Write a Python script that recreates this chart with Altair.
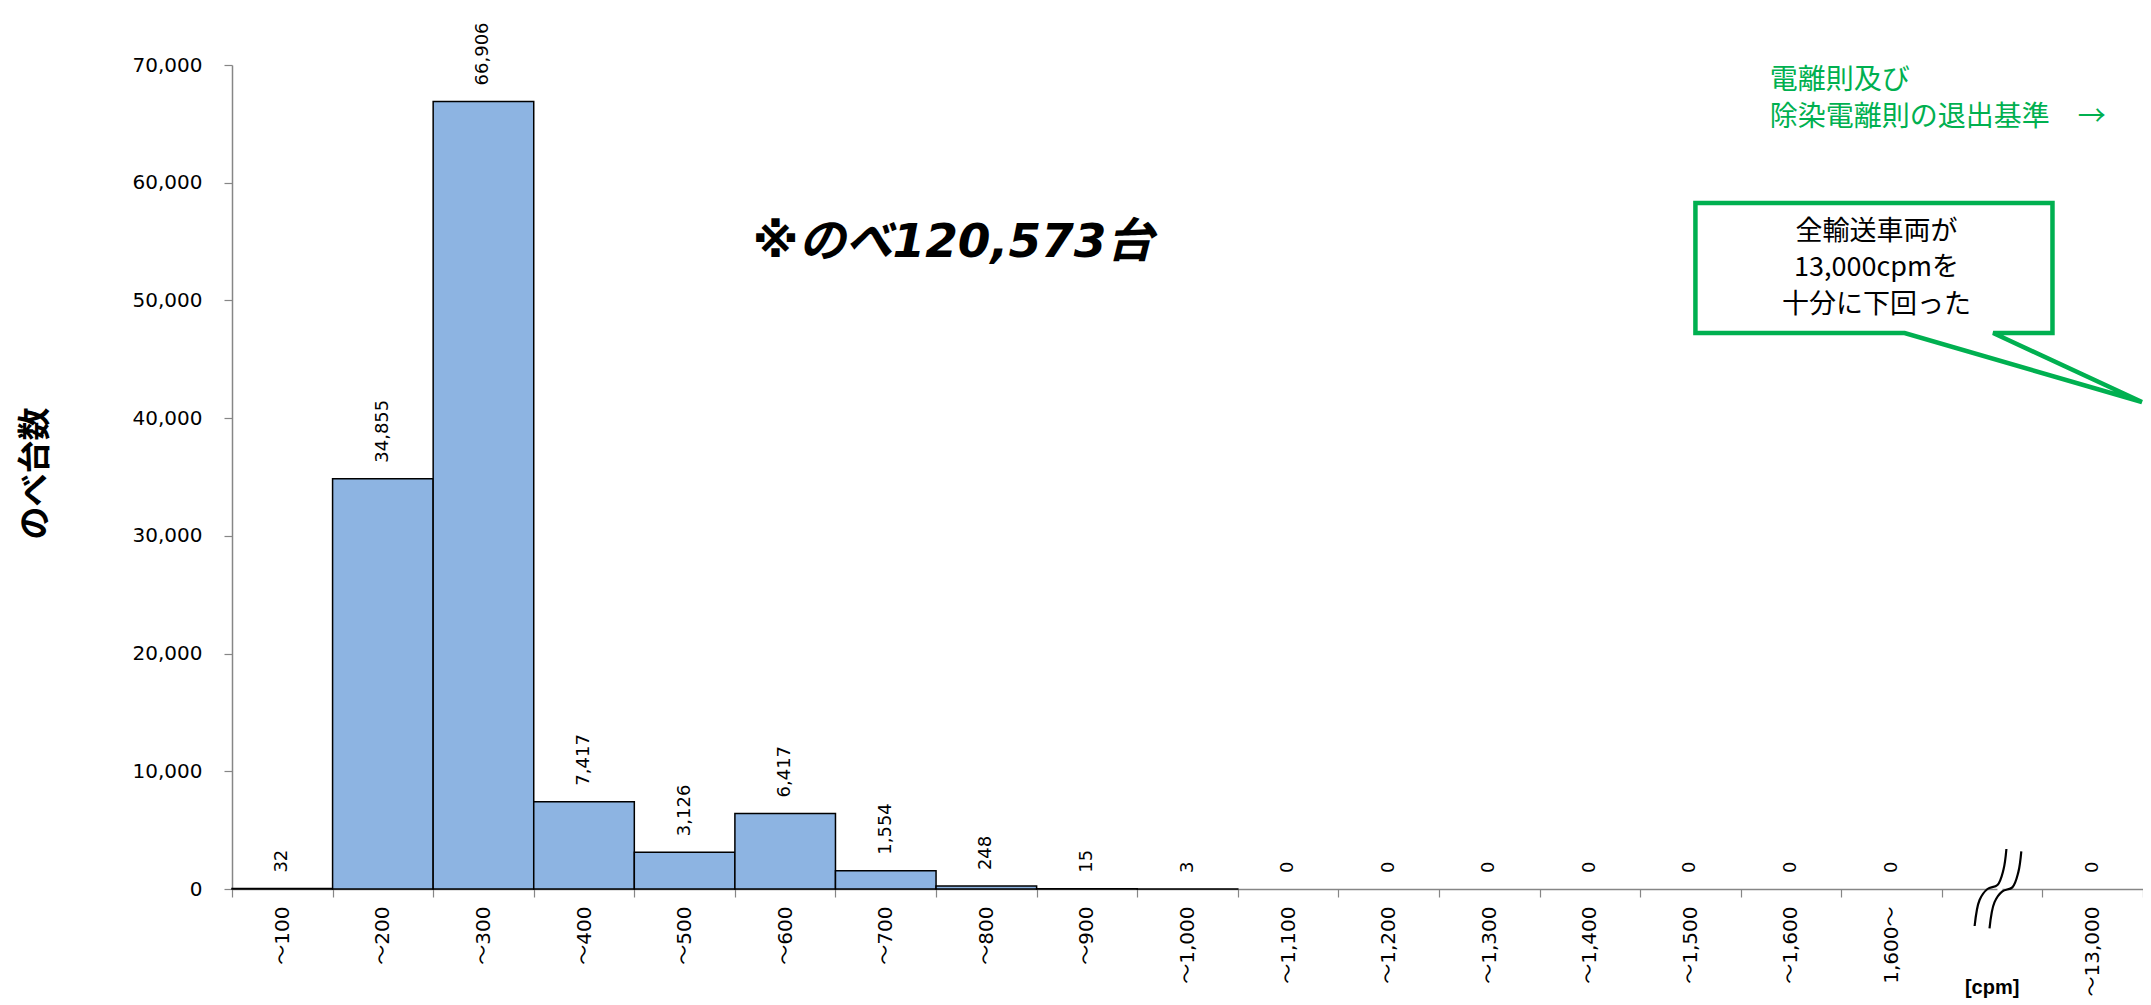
import altair as alt
import pandas as pd

# ---------------- data ----------------
categories = ["〜100", "〜200", "〜300", "〜400", "〜500", "〜600", "〜700", "〜800",
              "〜900", "〜1,000", "〜1,100", "〜1,200", "〜1,300", "〜1,400", "〜1,500",
              "〜1,600", "1,600〜", "", "〜13,000"]
counts = [32, 34855, 66906, 7417, 3126, 6417, 1554, 248, 15, 3,
          0, 0, 0, 0, 0, 0, 0, None, 0]
y_ticks = [0, 10000, 20000, 30000, 40000, 50000, 60000, 70000]

y_title = "のべ台数"
total_text = "※のべ120,573台"
threshold_lines = ["電離則及び", "除染電離則の退出基準　→"]
callout_lines = ["全輸送車両が", "13,000cpmを", "十分に下回った"]
unit_text = "[cpm]"

# ---------------- styling / annotation placement (category-index, count units) ----------------
BAR = "#8DB4E2"
GREEN = "#00B050"
AXIS_GRAY = "#868686"
LATIN = "DejaVu Sans, Noto Sans CJK JP"
CJK = "Noto Sans CJK JP"
N = len(categories)
YMAX = 70000

total_pos = (7.17, 54900)
threshold_pos = [(15.29, 68650), (15.29, 65500)]
callout_text_pos = [(16.35, 55800), (16.35, 52750), (16.35, 49600)]
callout_shape_x = [16.3, 18.10, 18.10, 17.51, 18.99, 16.63, 14.55, 14.55, 16.3]
callout_shape_y = [58280, 58280, 47230, 47230, 41370, 47230, 47230, 58280, 58280]
unit_pos = (17.5, -8400)
break_x = [17.326, 17.375, 17.454, 17.553, 17.612, 17.642]
break_y = [-3143, -934, 0, 340, 1614, 3398]
break_shift = (0.148, -200)

df = pd.DataFrame({"cat": categories, "count": counts})

x_band = alt.Scale(domain=categories, paddingInner=0, paddingOuter=0)
y_scale = alt.Scale(domain=[0, YMAX], nice=False, zero=True)
qx = alt.Scale(domain=[0, N], nice=False, zero=False)

x_enc = alt.X("cat:N", sort=categories, scale=x_band,
              axis=alt.Axis(title=None, labelAngle=270, labelAlign="right",
                            labelBaseline="middle", labelFont=LATIN, labelFontSize=20,
                            labelColor="black", labelPadding=9, tickBand="extent",
                            tickSize=8, tickColor=AXIS_GRAY, domainColor=AXIS_GRAY,
                            domainWidth=1.5, tickWidth=1.2, labelOverlap=False))
y_enc = alt.Y("count:Q", scale=y_scale,
              axis=alt.Axis(values=y_ticks, labelExpr="format(datum.value, ',')",
                            grid=False,
                            title=y_title, titleAngle=270, titleFont=CJK,
                            titleFontSize=33, titleFontWeight="bold", titleColor="black",
                            titleX=-197, titleY=408, titleAlign="center",
                            titleBaseline="middle",
                            labelFont=LATIN, labelFontSize=20, labelColor="black",
                            labelPadding=22, tickSize=8, tickColor=AXIS_GRAY,
                            domainColor=AXIS_GRAY, domainWidth=1.5, tickWidth=1.2))

bars = alt.Chart(df).transform_filter("datum.count > 0").mark_bar(
    color=BAR, stroke="black", strokeWidth=1.5
).encode(x=x_enc, y=y_enc)

labels = alt.Chart(df).transform_filter("isValid(datum.count)").mark_text(
    angle=270, align="left", baseline="middle", dx=16, font=LATIN, fontSize=18,
    color="black"
).encode(
    x=alt.X("cat:N", sort=categories, scale=x_band),
    y=alt.Y("count:Q", scale=y_scale),
    text=alt.Text("count:Q", format=","),
)

main = alt.layer(bars, labels)


def ann_df(xs, ys, texts=None):
    d = {"ax": xs, "ay": ys}
    if texts is not None:
        d["t"] = texts
    return pd.DataFrame(d)


def qenc():
    return dict(x=alt.X("ax:Q", scale=qx, axis=None),
                y=alt.Y("ay:Q", scale=y_scale, axis=None))


total = alt.Chart(ann_df([total_pos[0]], [total_pos[1]], [total_text])).mark_text(
    font=LATIN, fontSize=47, fontWeight="bold", fontStyle="italic", color="black",
    align="center", baseline="middle"
).encode(text="t:N", **qenc())

threshold = alt.Chart(ann_df([p[0] for p in threshold_pos], [p[1] for p in threshold_pos],
                             threshold_lines)).mark_text(
    font=CJK, fontSize=28, color=GREEN, align="left", baseline="middle"
).encode(text="t:N", **qenc())

shape_df = ann_df(callout_shape_x, callout_shape_y)
shape_df["o"] = list(range(len(callout_shape_x)))
callout_shape = alt.Chart(shape_df).mark_line(
    color=GREEN, strokeWidth=4.5, strokeJoin="miter", strokeCap="round"
).encode(order="o:Q", **qenc())

callout_text = alt.Chart(ann_df([p[0] for p in callout_text_pos],
                                [p[1] for p in callout_text_pos],
                                callout_lines)).mark_text(
    font=CJK, fontSize=27, color="black", align="center", baseline="middle"
).encode(text="t:N", **qenc())

unit = alt.Chart(ann_df([unit_pos[0]], [unit_pos[1]], [unit_text])).mark_text(
    font="Liberation Sans Narrow, Liberation Sans", fontSize=20, fontWeight="bold",
    color="black", align="center", baseline="middle"
).encode(text="t:N", **qenc())

gap = alt.Chart(pd.DataFrame({"ax": [break_x[3]], "ax2": [break_x[2] + break_shift[0]],
                              "ay": [-350], "ay2": [350]})).mark_rect(color="white").encode(
    x=alt.X("ax:Q", scale=qx, axis=None), x2="ax2:Q",
    y=alt.Y("ay:Q", scale=y_scale, axis=None), y2="ay2:Q")

brk_rows = []
for c, (sx, sy) in enumerate([(0.0, 0.0), break_shift]):
    for i, (bx, by) in enumerate(zip(break_x, break_y)):
        brk_rows.append({"ax": bx + sx, "ay": by + sy, "c": c, "o": i})
brk = alt.Chart(pd.DataFrame(brk_rows)).mark_line(
    color="black", strokeWidth=2.2, interpolate="catmull-rom"
).encode(detail="c:N", order="o:Q", **qenc())

chart = alt.layer(main, total, threshold, callout_shape, callout_text, unit, gap, brk).resolve_scale(
    x="independent", y="independent"
).properties(
    width=1911, height=824,
    padding={"left": 224, "top": 57, "right": 0, "bottom": 112},
    autosize=alt.AutoSizeParams(type="none"),
    background="white",
).configure_view(stroke=None)

chart.save("out.html", embed_options={"renderer": "svg", "actions": False})
